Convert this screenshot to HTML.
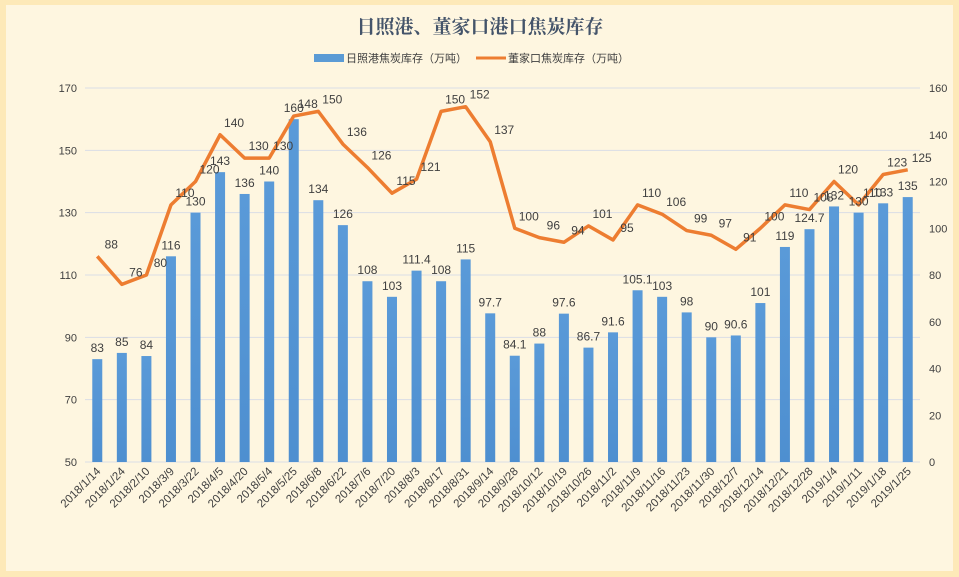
<!DOCTYPE html>
<html><head><meta charset="utf-8"><style>
body{margin:0;width:959px;height:577px;overflow:hidden;background:#fdf3d9;}
svg{display:block;font-family:"Liberation Sans","Noto Sans CJK SC",sans-serif;}
</style></head><body>
<svg width="959" height="577">
<defs><linearGradient id="bg" x1="0" x2="0" y1="0" y2="1"><stop offset="0" stop-color="#5a9ad8"/><stop offset="1" stop-color="#4e8fd0"/></linearGradient></defs>
<rect x="0" y="0" width="959" height="577" fill="#fde9b8"/>
<rect x="6" y="5" width="947" height="566" fill="#fef6e0"/>
<text x="480" y="33" text-anchor="middle" font-size="19" font-weight="bold" fill="#44546a" font-family="'Liberation Serif','Noto Serif CJK SC',serif">日照港、董家口港口焦炭库存</text>
<g>
<rect x="314" y="54" width="30" height="8" fill="#5b9bd5"/>
<text x="346" y="62" font-size="11" fill="#404040">日照港焦炭库存（万吨）</text>
<line x1="476" y1="58" x2="506" y2="58" stroke="#ed7d31" stroke-width="3"/>
<text x="508" y="62" font-size="11" fill="#404040">董家口焦炭库存（万吨）</text>
</g>
<g id="grid"></g><g id="bars"></g><g id="line"></g><g id="labels"></g><g id="axes"></g>
</svg>
<script>
const categories=["2018/1/14","2018/1/24","2018/2/10","2018/3/9","2018/3/22","2018/4/5","2018/4/20","2018/5/4","2018/5/25","2018/6/8","2018/6/22","2018/7/6","2018/7/20","2018/8/3","2018/8/17","2018/8/31","2018/9/14","2018/9/28","2018/10/12","2018/10/19","2018/10/26","2018/11/2","2018/11/9","2018/11/16","2018/11/23","2018/11/30","2018/12/7","2018/12/14","2018/12/21","2018/12/28","2019/1/4","2019/1/11","2019/1/18","2019/1/25"];
const rizhaoValues=[83,85,84,116,130,143,136,140,160,134,126,108,103,111.4,108,115,97.7,84.1,88,97.6,86.7,91.6,105.1,103,98,90,90.6,101,119,124.7,132,130,133,135];
const dongjiakouValues=[88,76,80,110,120,140,130,130,148,150,136,126,115,121,150,152,137,100,96,94,101,95,110,106,99,97,91,100,110,108,120,110,123,125];
const leftTicks=[50,70,90,110,130,150,170];
const rightTicks=[0,20,40,60,80,100,120,140,160];
const NS="http://www.w3.org/2000/svg";
const X0=85,X1=920,YT=88,YB=462;
const step=(X1-X0)/categories.length;
const xPos=i=>X0+step*(i+0.5);
const yL=v=>YB-(v-50)/(170-50)*(YB-YT);
const yR=v=>YB-v/160*(YB-YT);
function mk(tag,attrs,parent){const e=document.createElementNS(NS,tag);for(const k in attrs)e.setAttribute(k,attrs[k]);document.getElementById(parent).appendChild(e);return e;}
leftTicks.forEach(t=>{
 const g=mk('line',{x1:X0,x2:X1,y1:yL(t),y2:yL(t),stroke:'#d9dde6','stroke-width':1},'grid');
 
 
 const l=mk('text',{x:X0-8,y:yL(t)+4,'text-anchor':'end','font-size':11,fill:'#404040'},'axes');
 l.textContent=t;
 
 
});
rightTicks.forEach(t=>{
 const l=mk('text',{x:X1+9,y:yR(t)+4,'font-size':11,fill:'#404040'},'axes');
 l.textContent=t;
 
 
});
const bw=10;
rizhaoValues.forEach((v,i)=>{
 const b=mk('rect',{x:xPos(i)-bw/2,y:yL(v),width:bw,height:YB-yL(v),fill:'url(#bg)'},'bars');
 
 
 const t=mk('text',{x:xPos(i),y:yL(v)-7,'text-anchor':'middle','font-size':12,fill:'#404040'},'labels');
 t.textContent=v;
 
 
});
const pts=dongjiakouValues.map((v,i)=>xPos(i)+','+yR(v)).join(' ');
const pl=mk('polyline',{points:pts,fill:'none',stroke:'#ed7d31','stroke-width':3.5,'stroke-linejoin':'round'},'line');


dongjiakouValues.forEach((v,i)=>{
 const t=mk('text',{x:xPos(i)+14,y:yR(v)-8,'text-anchor':'middle','font-size':12,fill:'#404040'},'labels');
 t.textContent=v;
 
 
});
categories.forEach((c,i)=>{
 const x=xPos(i)+4,y=YB+10;
 const t=mk('text',{x:x,y:y,'text-anchor':'end','font-size':11.5,fill:'#404040',transform:`rotate(-45 ${x} ${y})`},'axes');
 t.textContent=c;
 
 
});
</script>
</body></html>
